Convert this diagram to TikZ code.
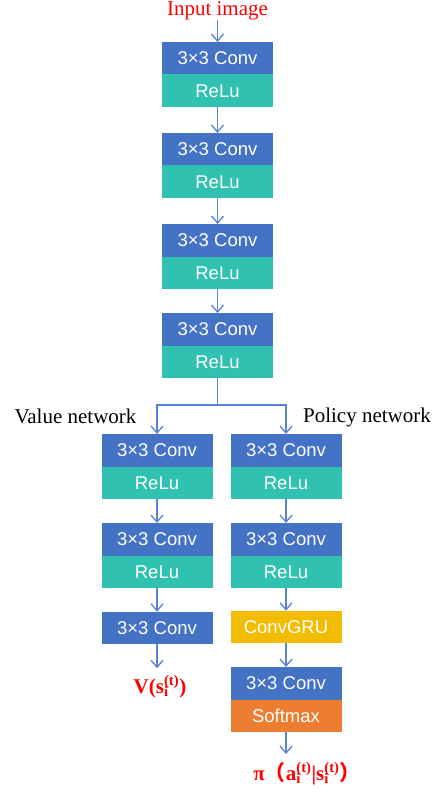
\documentclass[tikz,border=0pt]{standalone}
\usepackage{fontspec}
\setmainfont{Liberation Serif}
\setsansfont{Liberation Sans}
\newfontfamily\cjkfont{Noto Sans CJK SC}
\usetikzlibrary{arrows.meta}

\definecolor{convblue}{HTML}{4472C4}
\definecolor{reluteal}{HTML}{30C1B1}
\definecolor{gruyellow}{HTML}{F2BD00}
\definecolor{softorange}{HTML}{ED7D31}
\definecolor{flowblue}{HTML}{5A82D4}

% variable with index i and time step (t)
\newcommand\sidx[1]{#1\rlap{\textsubscript{i}}\textsuperscript{(t)}}

\begin{document}
\begin{tikzpicture}[x=1pt,y=-1pt,
  layer/.style={minimum width=111pt, minimum height=32.5pt, inner sep=0pt,
    outer sep=0pt, text=white, font=\sffamily\fontsize{18.5}{21}\selectfont},
  convbox/.style={layer, fill=convblue},
  relubox/.style={layer, fill=reluteal},
  grubox/.style={layer, fill=gruyellow},
  softbox/.style={layer, fill=softorange},
  caption/.style={inner sep=0pt, font=\fontsize{21}{24}\selectfont},
  outlabel/.style={inner sep=0pt, text=red, font=\bfseries\fontsize{21}{24}\selectfont},
  flow/.style={draw=flowblue, line width=1.3pt,
    -{Straight Barb[length=7pt,width=12pt,line width=1.3pt]}},
  link/.style={draw=flowblue, line width=1.3pt}
]
\useasboundingbox (0,0) rectangle (432,794);

% input
\node[caption, text=red, anchor=base] (input) at (217.5,15.5) {Input image};

% shared trunk
\node[convbox] (c1) at (217.5,58.25) {3×3 Conv};
\node[relubox] (r1) at (217.5,90.75) {ReLu};
\node[convbox] (c2) at (217.5,149.25) {3×3 Conv};
\node[relubox] (r2) at (217.5,181.75) {ReLu};
\node[convbox] (c3) at (217.5,240.25) {3×3 Conv};
\node[relubox] (r3) at (217.5,272.75) {ReLu};
\node[convbox] (c4) at (217.5,329.25) {3×3 Conv};
\node[relubox] (r4) at (217.5,361.75) {ReLu};

% value branch
\node[convbox] (vc1) at (157,450.25) {3×3 Conv};
\node[relubox] (vr1) at (157,482.75) {ReLu};
\node[convbox] (vc2) at (157,539.25) {3×3 Conv};
\node[relubox] (vr2) at (157,571.75) {ReLu};
\node[convbox] (vc3) at (157,628) {3×3 Conv};
\node[outlabel, anchor=base] (vout) at (160,693.5) {V(\sidx{s})};

% policy branch
\node[convbox] (pc1) at (286,450.25) {3×3 Conv};
\node[relubox] (pr1) at (286,482.75) {ReLu};
\node[convbox] (pc2) at (286,539.25) {3×3 Conv};
\node[relubox] (pr2) at (286,571.75) {ReLu};
\node[grubox] (gru) at (286,627) {ConvGRU};
\node[convbox] (pc3) at (286,683.25) {3×3 Conv};
\node[softbox] (soft) at (286,715.75) {Softmax};
\node[outlabel, anchor=base] (pout) at (307,780)
  {π{\cjkfont （}\sidx{a}|\sidx{s}{\cjkfont ）}};

% branch captions
\node[caption, anchor=base] (vcap) at (75.5,423) {Value network};
\node[caption, anchor=base] (pcap) at (367,422) {Policy network};

% connectors
\coordinate (split) at (217.5,405);
\draw[flow] (input.south -| c1.north) -- (c1.north);
\draw[flow] (r1.south) -- (c2.north);
\draw[flow] (r2.south) -- (c3.north);
\draw[flow] (r3.south) -- (c4.north);
\draw[link] (r4.south) -- (split);
\draw[flow] (split) -| (vc1.north);
\draw[flow] (split) -| (pc1.north);
\draw[flow] (vr1.south) -- (vc2.north);
\draw[flow] (vr2.south) -- (vc3.north);
\draw[flow] (vc3.south) -- ++(0,24) coordinate (vend);
\draw[flow] (pr1.south) -- (pc2.north);
\draw[flow] (pr2.south) -- (gru.north);
\draw[flow] (gru.south) -- (pc3.north);
\draw[flow] (soft.south) -- ++(0,22) coordinate (pend);
\end{tikzpicture}
\end{document}
